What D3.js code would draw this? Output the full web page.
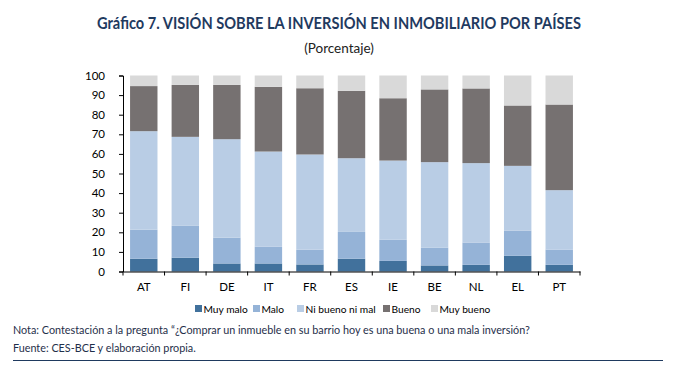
<!DOCTYPE html>
<html><head><meta charset="utf-8">
<script src="https://cdn.jsdelivr.net/npm/d3@7"></script>
<style>body{margin:0;background:#fff}svg{display:block}</style>
</head><body><svg id="c" width="682" height="366"></svg>
<script>
const countries = ["AT","FI","DE","IT","FR","ES","IE","BE","NL","EL","PT"];
const seriesNames = ["Muy malo","Malo","Ni bueno ni mal","Bueno","Muy bueno"];
const muyMalo   = [6.5, 7.0, 4.1, 4.1, 3.6, 6.5, 5.4, 3.1, 3.4, 8.0, 3.4];
const malo      = [14.8,16.3,13.2,8.5, 7.5, 13.7,10.8,9.0, 11.4,12.9,7.8];
const niBueno   = [50.3,45.4,50.2,48.6,48.6,37.6,40.4,43.7,40.5,33.0,30.3];
const bueno     = [23.0,26.5,27.7,33.0,33.8,34.4,31.8,37.1,38.1,30.8,43.7];
const muyBueno  = [5.4, 4.8, 4.8, 5.8, 6.5, 7.8, 11.6,7.1, 6.6, 15.3,14.8];
const yTicks = [0,10,20,30,40,50,60,70,80,90,100];
const colors = ["#41719c","#95b3d7","#b9cde5","#767171","#d9d9d9"];

const allSeries = [muyMalo, malo, niBueno, bueno, muyBueno];
const rows = countries.map((c,i)=>{const r={c}; seriesNames.forEach((s,j)=>r[s]=allSeries[j][i]); return r;});
const stack = d3.stack().keys(seriesNames)(rows);

const svg = d3.select("#c");
const font = "Lato, sans-serif";
const x = d3.scaleBand().domain(countries).range([123,580]).paddingInner(0.34).paddingOuter(0.17);
const y = d3.scaleLinear().domain([0,100]).range([271.5,75.5]);

svg.append("text").attr("x",339).attr("y",29).attr("text-anchor","middle")
  .attr("font-family",font).attr("font-weight","bold").attr("font-size",17).attr("fill","#1f3a5f")
  .attr("textLength",484).attr("lengthAdjust","spacingAndGlyphs")
  .text("Gráfico 7. VISIÓN SOBRE LA INVERSIÓN EN INMOBILIARIO POR PAÍSES");
svg.append("text").attr("x",339).attr("y",53).attr("text-anchor","middle")
  .attr("font-family",font).attr("font-size",13.5).attr("fill","#222")
  .text("(Porcentaje)");

svg.append("g").selectAll("g").data(stack).join("g").attr("fill",(d,i)=>colors[i])
  .selectAll("rect").data(d=>d).join("rect")
  .attr("x",d=>x(d.data.c)).attr("width",x.bandwidth())
  .attr("y",d=>y(d[1])).attr("height",d=>y(d[0])-y(d[1]));

const ya = svg.append("g").attr("transform","translate(123,0)")
  .call(d3.axisLeft(y).tickValues(yTicks).tickSize(4).tickPadding(14));
ya.select(".domain").attr("stroke","#000");
ya.selectAll("line").attr("stroke","#000");
ya.selectAll("text").attr("font-family",font).attr("font-size",11.5).attr("fill","#000");

const xa = svg.append("g").attr("transform","translate(0,271.5)")
  .call(d3.axisBottom(x).tickSize(0).tickPadding(11));
xa.select(".domain").attr("stroke","#000");
xa.selectAll("text").attr("font-family",font).attr("font-size",11.5).attr("fill","#000");
const bounds = countries.map(c=>x(c)-x.step()*x.paddingInner()/2).concat([580]);
svg.append("g").selectAll("line").data(bounds).join("line")
  .attr("x1",d=>d).attr("x2",d=>d).attr("y1",271.5).attr("y2",275.5).attr("stroke","#000");

const legX = [195,253,297,383,431];
const leg = svg.append("g").selectAll("g").data(seriesNames).join("g")
  .attr("transform",(d,i)=>`translate(${legX[i]},304)`);
leg.append("rect").attr("width",7).attr("height",7).attr("y",1).attr("fill",(d,i)=>colors[i]);
leg.append("text").attr("x",8.5).attr("y",8.5).attr("font-family",font).attr("font-size",10.2).attr("fill","#000").text(d=>d);

svg.append("text").attr("x",13).attr("y",334).attr("font-family",font).attr("font-size",10.8).attr("fill","#1f2f4a")
  .text("Nota: Contestación a la pregunta “¿Comprar un inmueble en su barrio hoy es una buena o una mala inversión?");
svg.append("text").attr("x",13).attr("y",352).attr("font-family",font).attr("font-size",10.8).attr("fill","#1f2f4a")
  .text("Fuente: CES-BCE y elaboración propia.");
svg.append("line").attr("x1",13).attr("x2",663).attr("y1",360.5).attr("y2",360.5).attr("stroke","#1f3a5f").attr("stroke-width",1);
</script></body></html>
